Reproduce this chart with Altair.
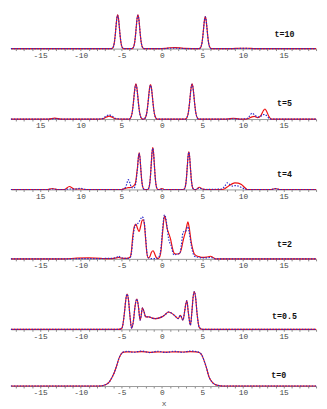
import altair as alt
import pandas as pd

# ---------------- data (amplitudes) ----------------
LABELS = ["t=10", "t=5", "t=4", "t=2", "t=0.5", "t=0"]
TICKS = list(range(-18, 20))

X_T10 = [-18.6, -8, -6.25, -6.1, -5.95, -5.85, -5.75, -5.65, -5.55, -5.45, -5.35, -5.25, -5.15, -5.05, -4.95, -4.8, -4.65,
         -3.75, -3.6, -3.45, -3.35, -3.25, -3.15, -3.05, -2.95, -2.85, -2.75, -2.65, -2.55, -2.45, -2.3, -2.15,
         -0.4, 0.4, 1.0, 1.6, 2.2, 2.8,
         4.55, 4.7, 4.85, 4.95, 5.05, 5.15, 5.25, 5.35, 5.45, 5.55, 5.65, 5.75, 5.85, 6.0, 6.15,
         8.5, 9.7, 10.5, 11.5, 19]
RED_T10 = [0, 0, 0, 0.5, 2.8, 7.1, 14.6, 24.5, 33.4, 37, 33.4, 24.5, 14.6, 7.1, 2.8, 0.5, 0,
           0, 0.5, 2.8, 7.1, 14.6, 24.5, 33.4, 37, 33.4, 24.5, 14.6, 7.1, 2.8, 0.5, 0,
           0, 0.3, 1.0, 1.1, 0.8, 0.2,
           0, 0.5, 2.7, 6.7, 13.8, 23.2, 31.6, 35, 31.6, 23.2, 13.8, 6.7, 2.7, 0.5, 0,
           0, 0.4, 0.4, 0, 0]
BLUE_T10 = [0, 0, 0, 0.5, 2.8, 7.0, 14.4, 24.2, 33.0, 36.6, 33.0, 24.2, 14.4, 7.0, 2.8, 0.5, 0,
            0, 0.5, 2.8, 7.0, 14.4, 24.2, 33.0, 36.6, 33.0, 24.2, 14.4, 7.0, 2.8, 0.5, 0,
            0, 0.1, 0.4, 0.5, 0.3, 0.1,
            0, 0.5, 2.7, 6.6, 13.6, 23.0, 31.3, 34.7, 31.3, 23.0, 13.6, 6.6, 2.7, 0.5, 0,
            0, 0.2, 0.2, 0, 0]

X_T5 = [-18.6, -14, -13.2, -12.4, -8, -7.3, -6.9, -6.5, -6.1, -5.7, -4.8,
        -4.0, -3.85, -3.7, -3.6, -3.5, -3.4, -3.3, -3.2, -3.1, -3.0, -2.9, -2.8, -2.7, -2.55, -2.4,
        -2.2, -2.05, -1.9, -1.8, -1.7, -1.6, -1.5, -1.4, -1.3, -1.2, -1.1, -1.0, -0.9, -0.75, -0.6,
        2.92, 3.07, 3.22, 3.32, 3.42, 3.52, 3.62, 3.72, 3.82, 3.92, 4.02, 4.12, 4.22, 4.37, 4.52,
        8.0, 8.8, 9.6, 10.4, 10.8, 11.1, 11.4, 11.8, 12.2, 12.5, 12.7, 12.9, 13.2, 13.5, 19]
RED_T5 = [0, 0, 1, 0, 0, 0.3, 1.8, 3, 1.8, 0.3, 0,
          0, 1.2, 4.9, 10.0, 17.5, 26.1, 33.2, 36, 33.2, 26.1, 17.5, 10.0, 4.9, 1.2, 0,
          0, 1.2, 4.8, 9.8, 17.2, 25.6, 32.6, 35.3, 32.6, 25.6, 17.2, 9.8, 4.8, 1.2, 0,
          0, 1.2, 4.9, 10.0, 17.5, 26.1, 33.2, 36, 33.2, 26.1, 17.5, 10.0, 4.9, 1.2, 0,
          0, 0.8, 0, 0, 1, 2.2, 2.7, 1.5, 3.5, 8.5, 10.3, 8, 2.5, 0, 0]
BLUE_T5 = [0, 0, 0.3, 0, 0, 0.5, 2.8, 4.3, 2.8, 0.6, 0,
           0, 1.2, 4.7, 9.7, 17.0, 25.4, 32.3, 35, 32.3, 25.4, 17.0, 9.7, 4.7, 1.2, 0,
           0, 1.2, 4.7, 9.6, 16.8, 25.0, 31.8, 34.5, 31.8, 25.0, 16.8, 9.6, 4.7, 1.2, 0,
           0, 1.2, 4.8, 9.9, 17.3, 25.8, 32.8, 35.5, 32.8, 25.8, 17.3, 9.9, 4.8, 1.2, 0,
           0, 0.3, 0, 0.3, 3, 6, 4.5, 2, 3, 4.5, 4.7, 3.5, 0.8, 0, 0]

X_T4 = [-18.6, -14.1, -13.5, -12.9, -12.0, -11.4, -10.8, -10.0, -9.4,
        -5.0, -4.6, -4.35, -4.15, -3.95, -3.75, -3.45, -3.3, -3.2, -3.1, -3.0, -2.9, -2.8, -2.7, -2.6, -2.5, -2.4, -2.3, -2.15,
        -1.77, -1.62, -1.52, -1.42, -1.32, -1.22, -1.12, -1.02, -0.92, -0.82, -0.72, -0.62, -0.47,
        -0.3, 0.0, 0.3,
        2.67, 2.82, 2.92, 3.02, 3.12, 3.22, 3.32, 3.42, 3.52, 3.62, 3.72, 3.82, 3.97,
        4.2, 4.6, 5.0, 5.4,
        7.4, 7.8, 8.05, 8.4, 8.7, 9.0, 9.4, 9.8, 10.2, 10.5,
        13.5, 14.0, 14.5, 19]
RED_T4 = [0, 0, 1, 0, 0, 3, 0.5, 0.5, 0,
          0, 0.8, 1.5, 1.8, 1.8, 2.2, 4, 5.5, 9, 16, 23, 32.7, 37.5, 32.7, 21.6, 10.8, 4.1, 1.2, 0,
          0, 1.3, 4.7, 12.3, 24.6, 37.2, 42.7, 37.2, 24.6, 12.3, 4.7, 1.3, 0,
          0, 0.8, 0,
          0, 1.2, 4.2, 11.0, 22.1, 33.5, 38.5, 33.5, 22.1, 11.0, 4.2, 1.2, 0,
          0, 2.3, 0.5, 0,
          0, 1, 2.5, 4.5, 6, 6.7, 6.5, 5, 2, 0,
          0, 1, 0, 0]
BLUE_T4 = [0, 0, 0.5, 0, 0, 0.5, 0.3, 1.2, 0,
           0, 1, 5, 10, 7, 2, 1.5, 3, 7, 14, 22, 32, 37, 32.2, 21.3, 10.6, 4, 1.2, 0,
           0, 1.3, 4.6, 12.1, 24.2, 36.6, 42, 36.6, 24.2, 12.1, 4.6, 1.3, 0,
           0, 0.3, 0,
           0, 1.2, 4.1, 10.9, 21.9, 33.1, 38, 33.1, 21.9, 10.9, 4.1, 1.2, 0,
           0, 1.5, 0.3, 0,
           0.5, 4, 6.7, 5, 3.5, 4, 3.5, 2, 0.5, 0,
           0, 0.8, 0, 0]

X_T2 = [-18.6, -12, -10.5, -9, -7.5, -7.0, -6.2, -5.6, -5.35, -5.0, -4.3, -3.9, -3.75, -3.6, -3.4, -3.2, -3.0,
        -2.8, -2.6, -2.45, -2.3, -2.15, -2.0, -1.85, -1.7, -1.5, -1.3, -1.08, -0.9, -0.7, -0.5, -0.3, -0.1,
        0.1, 0.32, 0.5, 0.65, 0.8, 0.95, 1.08, 1.25, 1.4, 1.55, 1.7, 1.95, 2.2, 2.4, 2.6, 2.75, 2.92,
        3.05, 3.2, 3.35, 3.6, 3.8, 4.0, 4.3, 4.6, 5.0, 5.5, 6.0, 6.3, 6.6, 8, 19]
RED_T2 = [0, 0, 0.8, 1, 0.5, 0.2, 0.3, 1, 1.5, 0.8, 0.5, 2, 8, 22, 33, 35.7, 31,
          28, 34, 39, 40, 35, 20, 6, 1, 2, 6.5, 8.3, 5.5, 1.5, 0.3, 1.5, 9,
          28, 44, 39, 31, 27, 23.5, 20, 13, 8, 5.5, 5, 5, 5.7, 10, 18, 23, 28,
          33, 38, 33, 18, 10, 5, 3, 2.3, 1.5, 1.8, 2.7, 1.5, 0, 0, 0]
BLUE_T2 = [0, 0, 0.2, 0.3, 0.3, 0.5, 0.5, 1.5, 2.7, 1, 0.5, 1.5, 6, 18, 31, 35, 36,
           38, 41, 43, 42, 36, 22, 7, 1.5, 0.5, 0.3, 0.3, 0.3, 0.5, 1, 3, 12,
           32, 45, 41, 32, 22, 17, 15, 10, 5, 4, 4.5, 5, 5.5, 14, 27, 28, 28,
           31, 33, 28, 15, 7, 3, 2, 1.5, 1, 1, 1.5, 0.8, 0, 0, 0]

X_T05 = [-18.6, -5.4, -5.0, -4.8, -4.6, -4.45, -4.29, -4.1, -3.95, -3.72, -3.5, -3.3, -3.08, -2.9, -2.68,
         -2.55, -2.4, -2.2, -2.0, -1.6, -1.2, -0.8, -0.4, 0.0, 0.4, 0.8, 1.1, 1.4, 1.7, 2.0, 2.28,
         2.6, 2.8, 2.95, 3.08, 3.25, 3.52, 3.7, 3.85, 4.0, 4.15, 4.35, 4.6, 5.0, 19]
RED_T05 = [0, 0, 0.5, 5, 18, 30, 36, 29, 15, 1, 9, 24, 31, 24, 9.3,
           14, 22, 18, 12.7, 12.7, 11.5, 11, 11.5, 12.7, 15, 17.7, 17, 15.3, 13, 11, 14.3,
           9.3, 18, 26, 29.3, 18, 4.3, 18, 33, 38.7, 33, 15, 2, 0, 0]
BLUE_T05 = [0, 0, 0.5, 5, 18, 30, 36, 29, 15, 1, 9, 24, 31, 24, 9.3,
            14, 22, 18, 12.7, 12.7, 11.5, 11, 11.5, 12.7, 15, 17.7, 17, 15.3, 13, 11, 14.3,
            9.3, 18, 26, 29.3, 18, 4.3, 18, 33, 38.7, 33, 15, 2, 0, 0]

X_T0 = [-18.6, -8.0, -7.4, -6.9, -6.5, -6.2, -5.9, -5.6, -5.3, -5.0, -4.7, -4.3, -3.5, -2.5, -1.5, -0.5,
        0.5, 1.5, 2.5, 3.5, 4.2, 4.6, 4.9, 5.2, 5.5, 5.8, 6.1, 6.5, 7.0, 7.5, 19]
RED_T0 = [0, 0, 0.3, 1.5, 4, 8, 13, 20, 28, 33, 34.7, 35, 34.8, 35.2, 34.5, 35,
          34.6, 35, 34.8, 35.2, 35, 34.3, 32, 26, 18.5, 9.5, 5, 1.8, 0.5, 0, 0]
BLUE_T0 = [0, 0, 0.3, 1.5, 4, 8, 13, 20, 28, 33, 34.9, 35.5, 34.5, 35.8, 34.2, 35.6,
           34.3, 35.6, 34.5, 35.8, 35.3, 34.3, 32, 26, 18.5, 9.5, 5, 1.8, 0.5, 0, 0]

LABEL_X = [15.1, 15.1, 15.1, 15.1, 15.1, 14.4]
LABEL_Y = [16, 16, 16, 15, 14, 11]

# ---------------- chart ----------------
XDOM = [-18.6, 19.0]
W = 312
HEIGHTS = [35, 61, 61, 60, 61, 47]
YMAX = [37.5, 61, 61, 60, 61, 47]
ABS_LABELS = [False, True, True, False, False, False]

series = [(X_T10, RED_T10, BLUE_T10), (X_T5, RED_T5, BLUE_T5), (X_T4, RED_T4, BLUE_T4),
          (X_T2, RED_T2, BLUE_T2), (X_T05, RED_T05, BLUE_T05), (X_T0, RED_T0, BLUE_T0)]

FONT = "Liberation Mono"


def make_x(i, last):
    if ABS_LABELS[i]:
        expr = "datum.value % 5 === 0 ? '' + abs(datum.value) : ''"
    else:
        expr = "datum.value % 5 === 0 ? (datum.value < 0 ? '-' + abs(datum.value) : '' + datum.value) : ''"
    return alt.X(
        "x:Q",
        scale=alt.Scale(domain=XDOM, nice=False, zero=False),
        axis=alt.Axis(values=TICKS, labelExpr=expr, labelOverlap=False, labelFlush=False,
                      grid=False, tickSize=2, tickColor="#888888", domainColor="#999999",
                      labelFont=FONT, labelFontSize=8, labelColor="#444444", labelPadding=1,
                      title="x" if last else None, titleFont=FONT, titleFontSize=8,
                      titleFontWeight="normal", titleColor="#555555", titlePadding=3),
        title="x" if last else None,
    )


panels = []
for i, (xs, red, blue) in enumerate(series):
    last = i == len(series) - 1
    ysc = alt.Y("y:Q", scale=alt.Scale(domain=[0, YMAX[i]], nice=False, zero=True), axis=None)
    xenc = make_x(i, last)
    dr = pd.DataFrame({"x": xs, "y": red})
    db = pd.DataFrame({"x": xs, "y": blue})
    dl = pd.DataFrame({"x": [LABEL_X[i]], "y": [LABEL_Y[i]], "t": [LABELS[i]]})
    red_line = alt.Chart(dr).mark_line(color="#ee1111", strokeWidth=1.2, interpolate="monotone").encode(x=xenc, y=ysc)
    blue_line = alt.Chart(db).mark_line(color="#2a2acc", strokeWidth=1.2, strokeDash=[1.5, 1.5],
                                        interpolate="monotone").encode(x=xenc, y=ysc)
    txt = alt.Chart(dl).mark_text(font=FONT, fontSize=8.5, fontWeight="bold", color="#111111",
                                  align="center", baseline="middle").encode(x=xenc, y=ysc, text="t:N")
    panels.append(alt.layer(red_line, blue_line, txt).properties(width=W, height=HEIGHTS[i]))

chart = (alt.vconcat(*panels, spacing=0)
         .properties(padding={"left": 0, "top": 0, "right": 0, "bottom": 0})
         .configure_view(stroke=None))

chart.save("out.html", embed_options={"renderer": "svg", "actions": False})
